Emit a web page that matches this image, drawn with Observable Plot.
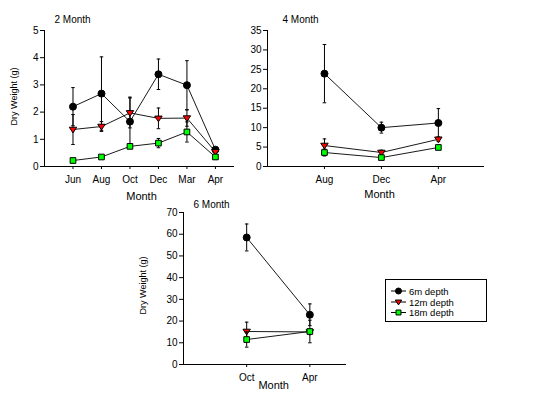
<!DOCTYPE html>
<html>
<head>
<meta charset="utf-8">
<script src="https://cdn.jsdelivr.net/npm/d3@7"></script>
<script src="https://cdn.jsdelivr.net/npm/@observablehq/plot@0.6"></script>
<style>
  html, body { margin: 0; padding: 0; background: #fff; }
  #chart { position: relative; width: 545px; height: 394px; background: #fff; overflow: hidden;
           font-family: Arial, "Liberation Sans", sans-serif; }
  #chart > .panel { position: absolute; }
</style>
</head>
<body>
<div id="chart"></div>
<script>
// ---------------- data ----------------
const depths = ["6m depth", "12m depth", "18m depth"];

// 2 Month panel
const months2 = ["Jun", "Aug", "Oct", "Dec", "Mar", "Apr"];
const m2_6m = [2.2, 2.68, 1.65, 3.39, 2.99, 0.62];
const m2_6m_err = [0.7, 1.35, 0.9, 0.56, 0.9, 0.08];
const m2_12m = [1.36, 1.47, 1.97, 1.77, 1.78, 0.54];
const m2_12m_err = [0.55, 0.18, 0.55, 0.38, 0.3, 0.06];
const m2_18m = [0.22, 0.35, 0.74, 0.86, 1.27, 0.35];
const m2_18m_err = [0.04, 0.04, 0.07, 0.17, 0.37, 0.08];
const ticks2 = [0, 1, 2, 3, 4, 5];

// 4 Month panel
const months4 = ["Aug", "Dec", "Apr"];
const m4_6m = [23.9, 10.0, 11.2];
const m4_6m_err = [7.5, 1.4, 3.7];
const m4_12m = [5.4, 3.6, 7.0];
const m4_12m_err = [1.7, 0.6, 0.6];
const m4_18m = [3.6, 2.3, 4.9];
const m4_18m_err = [0.9, 0.5, 0.4];
const ticks4 = [0, 5, 10, 15, 20, 25, 30, 35];

// 6 Month panel
const months6 = ["Oct", "Apr"];
const m6_6m = [58.5, 22.9];
const m6_6m_err = [6.2, 5.0];
const m6_12m = [15.2, 15.0];
const m6_12m_err = [4.3, 0.8];
const m6_18m = [11.5, 15.2];
const m6_18m_err = [3.5, 5.2];
const ticks6 = [0, 10, 20, 30, 40, 50, 60, 70];

// ---------------- symbols ----------------
const triDown = {
  draw(ctx, size) {
    const s = Math.sqrt(size), w = s * 0.6, h = s * 0.92;
    ctx.moveTo(-w, -h * 0.4); ctx.lineTo(w, -h * 0.4); ctx.lineTo(0, h * 0.6); ctx.closePath();
  }
};
const capSym = {
  draw(ctx, size) {
    const w = Math.sqrt(size) * 0.5;
    ctx.moveTo(-w, 0); ctx.lineTo(w, 0);
  }
};
const styles = [
  {symbol: "circle", fill: "#000", stroke: "#000", r: 3.5},
  {symbol: triDown, fill: "#ff0000", stroke: "#000", r: 3.5},
  {symbol: "square", fill: "#00ff00", stroke: "#000", r: 3.2}
];

function rows(months, vals, errs) {
  return months.map((m, i) => ({x: i + 1, month: m, y: vals[i], lo: vals[i] - errs[i], hi: vals[i] + errs[i]}));
}

function seriesMarks(data, st) {
  return [
    Plot.line(data, {x: "x", y: "y", stroke: "#000", strokeWidth: 0.9}),
    Plot.ruleX(data, {x: "x", y1: "lo", y2: "hi", stroke: "#000", strokeWidth: 1}),
    Plot.dot(data, {x: "x", y: "hi", symbol: capSym, r: 2, stroke: "#000", strokeWidth: 1}),
    Plot.dot(data, {x: "x", y: "lo", symbol: capSym, r: 2, stroke: "#000", strokeWidth: 1}),
    Plot.dot(data, {x: "x", y: "y", symbol: st.symbol, r: st.r, fill: st.fill, stroke: st.stroke, strokeWidth: 1})
  ];
}

function panel(cfg) {
  const all = cfg.series.map((s, k) => seriesMarks(rows(cfg.months, s[0], s[1]), styles[k])).flat();
  const marks = [
    Plot.ruleX([0], {stroke: "#000", strokeWidth: 1}),
    Plot.ruleY([0], {stroke: "#000", strokeWidth: 1}),
    ...all,
    Plot.text([cfg.title], {text: d => d, frameAnchor: "top-left", textAnchor: "start", lineAnchor: "bottom",
      dx: cfg.titleDx, dy: cfg.titleDy, fontSize: 10, fill: "#000"}),
    Plot.text(["Month"], {text: d => d, frameAnchor: "bottom", lineAnchor: "bottom",
      dx: cfg.monthDx, dy: cfg.monthDy, fontSize: 11, fill: "#000"})
  ];
  if (cfg.ylabel) {
    marks.push(Plot.text([cfg.ylabel], {text: d => d, frameAnchor: "left", rotate: -90, textAnchor: "middle",
      lineAnchor: "middle", dx: cfg.ylabelDx, dy: cfg.ylabelDy || 0, fontSize: 9, fill: "#000"}));
  }
  const svg = Plot.plot({
    width: cfg.width, height: cfg.height,
    marginLeft: cfg.ml, marginRight: cfg.mr, marginTop: cfg.mt, marginBottom: cfg.mb,
    style: {fontFamily: "Arial, 'Liberation Sans', sans-serif", fontSize: "10px", background: "transparent", color: "#000", overflow: "visible"},
    x: {domain: [0, cfg.xmax], ticks: cfg.months.map((m, i) => i + 1), tickFormat: d => cfg.months[d - 1],
        tickSize: 3, tickPadding: 6, label: null},
    y: {domain: [0, cfg.ymax], ticks: cfg.yticks, tickFormat: d => String(d), tickSize: 4, tickPadding: 2, label: null},
    marks
  });
  const wrap = document.createElement("div");
  wrap.className = "panel";
  wrap.style.left = cfg.left + "px";
  wrap.style.top = cfg.top + "px";
  wrap.appendChild(svg);
  document.getElementById("chart").appendChild(wrap);
}

panel({
  title: "2 Month", months: months2, yticks: ticks2, ymax: 5, xmax: 6.67,
  series: [[m2_6m, m2_6m_err], [m2_12m, m2_12m_err], [m2_18m, m2_18m_err]],
  left: 0, top: 0, width: 240, height: 200, ml: 44, mr: 6, mt: 30, mb: 34,
  titleDx: 10, titleDy: -8, monthDx: 2, monthDy: 33,
  ylabel: "Dry Weight (g)", ylabelDx: -30.5, ylabelDy: -2
});

panel({
  title: "4 Month", months: months4, yticks: ticks4, ymax: 35, xmax: 3.81,
  series: [[m4_6m, m4_6m_err], [m4_12m, m4_12m_err], [m4_18m, m4_18m_err]],
  left: 240, top: 0, width: 250, height: 200, ml: 27, mr: 6, mt: 30, mb: 34,
  titleDx: 15, titleDy: -8, monthDx: 3.5, monthDy: 31
});

panel({
  title: "6 Month", months: months6, yticks: ticks6, ymax: 70, xmax: 2.58,
  series: [[m6_6m, m6_6m_err], [m6_12m, m6_12m_err], [m6_18m, m6_18m_err]],
  left: 130, top: 190, width: 220, height: 204, ml: 53, mr: 4, mt: 22, mb: 30,
  titleDx: 10, titleDy: -4.5, monthDx: 8.7, monthDy: 24.5,
  ylabel: "Dry Weight (g)", ylabelDx: -40, ylabelDy: -3
});

// ---------------- legend ----------------
(function legend() {
  const W = 102, H = 43;
  const wrap = document.createElement("div");
  wrap.className = "panel";
  wrap.style.left = "385px";
  wrap.style.top = "279px";
  document.getElementById("chart").appendChild(wrap);
  const svg = d3.select(wrap).append("svg").attr("width", W).attr("height", H)
    .style("font-family", "Arial, 'Liberation Sans', sans-serif").style("font-size", "9.5px");
  svg.append("rect").attr("x", 0.5).attr("y", 0.5).attr("width", W - 1).attr("height", H - 1)
    .attr("fill", "#fff").attr("stroke", "#000");
  const rowY = [12, 23, 33.5];
  const legR = [3, 3, 2.8];
  depths.forEach((name, k) => {
    const g = svg.append("g").attr("transform", `translate(0,${rowY[k]})`);
    g.append("line").attr("x1", 6).attr("x2", 21).attr("y1", 0).attr("y2", 0).attr("stroke", "#000");
    const st = styles[k];
    const type = st.symbol === "circle" ? d3.symbolCircle : st.symbol === "square" ? d3.symbolSquare : st.symbol;
    g.append("path").attr("transform", "translate(13.5,0)")
      .attr("d", d3.symbol(type, Math.PI * legR[k] * legR[k])())
      .attr("fill", st.fill).attr("stroke", st.stroke);
    g.append("text").attr("x", 24).attr("y", 3.5).attr("fill", "#000").text(name);
  });
})();
</script>
</body>
</html>
